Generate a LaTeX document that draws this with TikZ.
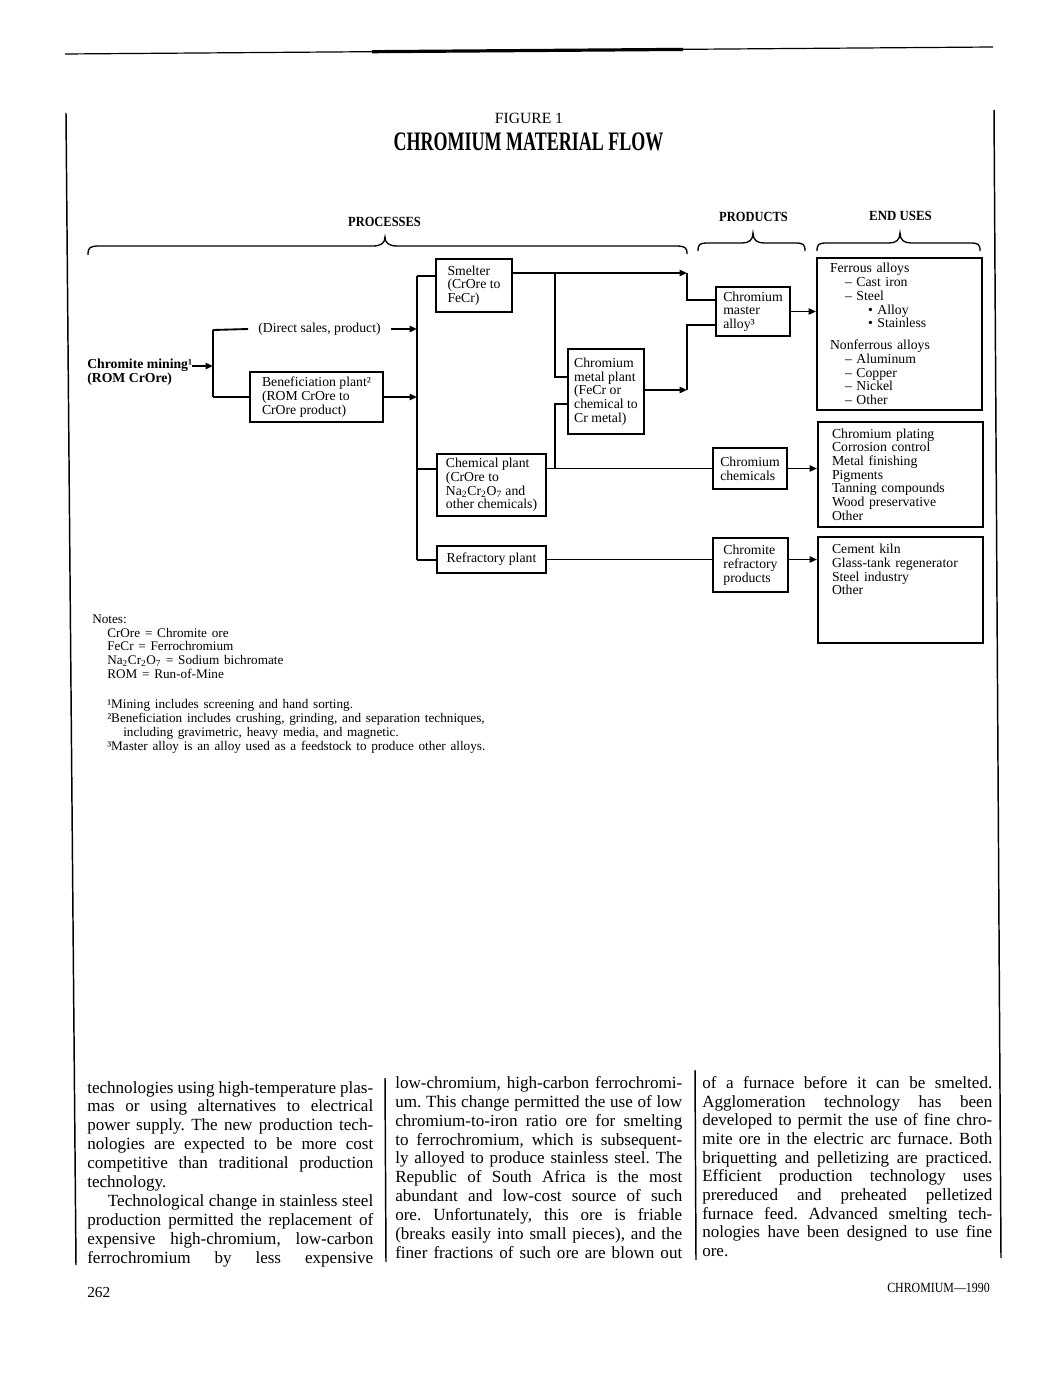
\documentclass[tikz,border=0pt]{standalone}
\usepackage{fontspec}
\usepackage{graphicx}
\setmainfont{Liberation Serif}
\frenchspacing
\usetikzlibrary{arrows.meta,calc}
\newcommand\dfont{\fontsize{10.3pt}{10.3pt}\selectfont}
\newcommand\nfont{\fontsize{9.9pt}{10.3pt}\selectfont\spaceskip=.36em plus .1em minus .05em\relax}
\newcommand\txfont{\fontsize{12.8pt}{14.2pt}\selectfont}
\newcommand\hdfont{\fontsize{10.5pt}{11pt}\selectfont\bfseries}
\newcommand\bodyline[5]{\node[bodytxt] (#1) at (#2,#3) {\hbox to #4pt{#5}};}
\newcommand\lastline[4]{\node[bodytxt] (#1) at (#2,#3) {#4};}
\newcommand\noteline[4]{\node[notetxt] (#1) at (#2,#3) {#4};}
\begin{document}
\begin{tikzpicture}[x=0.75pt,y=-0.75pt,
  ln/.style={line width=1.4pt},
  arr/.style={ln,-{Triangle[length=5.5pt,width=4.6pt]}},
  box/.style={draw,line width=1.5pt,font=\dfont,align=left,inner sep=0pt},
  lbl/.style={font=\dfont,align=left,inner sep=0pt},
  brc/.style={line width=1.0pt},
  bar/.style={line width=1.1pt},
  bodytxt/.style={anchor=base west,inner sep=0pt,font=\txfont},
  notetxt/.style={anchor=base west,inner sep=0pt,font=\nfont},
  hdr/.style={inner sep=0pt,font=\hdfont}]
\fill[white] (0,0) rectangle (1038,1380);
\useasboundingbox (0,0) rectangle (1038,1380);

% page rules
\draw[line width=0.9pt] (65,54) -- (993,47);
\draw[line width=2.4pt] (372,51.7) -- (683,49.4);
\draw[bar] (66,113) -- (76,1265);
\draw[bar] (994,110) -- (1001,1258);
\draw[bar] (385,1078) -- (386,1262);
\draw[bar] (695,1070) -- (696,1260);

% title
\node[inner sep=0pt,font=\fontsize{11.7pt}{12pt}\selectfont] (fig) at (529,118) {FIGURE 1};
\node[inner sep=0pt,font=\fontsize{20pt}{20pt}\selectfont\bfseries] (title) at (528.5,142) {\scalebox{0.675}[1]{CHROMIUM MATERIAL FLOW}};

% headers
\node[hdr] (hproc) at (384.5,222) {\scalebox{0.89}[1]{PROCESSES}};
\node[hdr] (hprod) at (753.5,217) {\scalebox{0.89}[1]{PRODUCTS}};
\node[hdr] (huse) at (900.5,216) {\scalebox{0.92}[1]{END USES}};

% braces
\draw[brc] (88,255) .. controls (88,247) and (90,246) .. (100,246) -- (373,246)
  .. controls (381,246) and (385,243) .. (385,237)
  .. controls (385,243) and (389,246) .. (397,246) -- (675,246)
  .. controls (685,246) and (687,247) .. (687,254);
\draw[brc] (698,251) .. controls (698,244) and (700,243) .. (708,243) -- (742,243)
  .. controls (749,243) and (753,240) .. (753,233)
  .. controls (753,240) and (757,243) .. (764,243) -- (795,243)
  .. controls (803,243) and (805,244) .. (805,251);
\draw[brc] (817,251) .. controls (817,244) and (819,243) .. (827,243) -- (889,243)
  .. controls (896,243) and (900,240) .. (900,233)
  .. controls (900,240) and (904,243) .. (911,243) -- (970,243)
  .. controls (978,243) and (980,244) .. (980,251);

% nodes
\node[lbl,font=\dfont\bfseries,anchor=west] (mining) at (87,372.5) {Chromite mining¹\\(ROM CrOre)};
\node[lbl,inner xsep=7.5pt] (direct) at (319.5,329) {(Direct sales, product)};
\node[box,minimum width=99.75pt,minimum height=37.5pt] (benef) at (316.5,397) {Beneficiation plant²\\(ROM CrOre to\\CrOre product)};
\node[box,minimum width=57pt,minimum height=39.75pt] (smelter) at (474,285.5) {Smelter\\(CrOre to\\FeCr)};
\node[box,minimum width=57pt,minimum height=63.75pt] (metal) at (606,391.5) {Chromium\\metal plant\\(FeCr or\\chemical to\\Cr metal)};
\node[box,minimum width=81.75pt,minimum height=46.5pt] (chem) at (491.5,485) {Chemical plant\\(CrOre to\\Na\textsubscript{2}Cr\textsubscript{2}O\textsubscript{7} and\\other chemicals)};
\node[box,minimum width=81.75pt,minimum height=20.25pt] (refr) at (491.5,559.5) {Refractory plant};
\node[box,minimum width=55.5pt,minimum height=36.75pt] (master) at (753,311.5) {Chromium\\master\\alloy³};
\node[box,minimum width=55.5pt,minimum height=30.75pt] (chemP) at (750,468.5) {Chromium\\chemicals};
\node[box,minimum width=56.25pt,minimum height=40.5pt] (crp) at (750.5,565) {Chromite\\refractory\\products};
\node[box,minimum width=123.75pt,minimum height=114pt,text width=104.25pt] (ferrous) at (899.5,334) {Ferrous alloys\\
\hspace*{11.25pt}– Cast iron\\
\hspace*{11.25pt}– Steel\\
\hspace*{28.5pt}• Alloy\\
\hspace*{28.5pt}• Stainless\\[6pt]
Nonferrous alloys\\
\hspace*{11.25pt}– Aluminum\\
\hspace*{11.25pt}– Copper\\
\hspace*{11.25pt}– Nickel\\
\hspace*{11.25pt}– Other};
\node[box,minimum width=123.75pt,minimum height=78.75pt,text width=102.75pt] (usesB) at (900.5,474.5) {Chromium plating\\Corrosion control\\Metal finishing\\Pigments\\Tanning compounds\\Wood preservative\\Other};
\node[box,minimum width=123.75pt,minimum height=79.5pt,text width=102.75pt] (usesC) at (900.5,590) {Cement kiln\\Glass-tank regenerator\\Steel industry\\Other\\\mbox{}\\\mbox{}\\\mbox{}};

% junction coordinates
\coordinate (sTop) at (213,330);
\coordinate (sMid) at (213,366);
\coordinate (sBot) at (213,397);
\coordinate (busTop) at (417,276);
\coordinate (busBot) at (417,560);
\coordinate (chemIn) at (417,469);
\coordinate (mA) at (687,273);
\coordinate (mA2) at (687,300);
\coordinate (mB) at (687,390);
\coordinate (mB2) at (687,325);
\coordinate (br1) at (555,273);
\coordinate (br1b) at (555,377);
\coordinate (br2) at (555,404);
\coordinate (br2b) at (555,468.5);

% connectors
\draw[arr] (mining.east |- sMid) -- (sMid);
\draw[ln] (sTop) -- (sBot);
\draw[ln] (sTop) -- (direct.west);
\draw[arr] (direct.east) -- (direct.east -| busTop);
\draw[ln] (sBot) -- (benef.west |- sBot);
\draw[arr] (benef.east |- sBot) -- (sBot -| busTop);
\draw[ln] (busTop) -- (busBot);
\draw[ln] (busTop) -- (smelter.west |- busTop);
\draw[ln] (chemIn) -- (chem.west |- chemIn);
\draw[ln] (busBot) -- (refr.west |- busBot);
\draw[arr] (smelter.east |- mA) -- (mA);
\draw[ln] (mA) -- (mA2) -- (master.west |- mA2);
\draw[ln] (br1) -- (br1b) -- (metal.west |- br1b);
\draw[ln] (metal.west |- br2) -- (br2) -- (br2b);
\draw[arr] (metal.east |- mB) -- (mB);
\draw[ln] (mB) -- (mB2) -- (master.west |- mB2);
\draw[arr] (master.east) -- (master.east -| ferrous.west);
\draw[ln] (chem.east |- chemP.west) -- (chemP.west);
\draw[arr] (chemP.east) -- (chemP.east -| usesB.west);
\draw[ln] (refr.east) -- (refr.east -| crp.west);
\draw[arr] (crp.east |- refr.east) -- (usesC.west |- refr.east);

% notes
\noteline{n0}{92}{623}{Notes:}
\noteline{n1}{107}{637}{CrOre = Chromite ore}
\noteline{n2}{107}{650}{FeCr = Ferrochromium}
\noteline{n3}{107}{664}{Na\textsubscript{2}Cr\textsubscript{2}O\textsubscript{7} = Sodium bichromate}
\noteline{n4}{107}{678}{ROM = Run-of-Mine}
\noteline{f1}{107}{708}{¹Mining includes screening and hand sorting.}
\noteline{f2}{107}{722}{²Beneficiation includes crushing, grinding, and separation techniques,}
\noteline{f2b}{123}{736}{including gravimetric, heavy media, and magnetic.}
\noteline{f3}{107}{750}{³Master alloy is an alloy used as a feedstock to produce other alloys.}

% body text column 1
\bodyline{a1}{87}{1093}{214.5}{technologies using high-temperature plas-}
\bodyline{a2}{87}{1111.9}{214.5}{mas or using alternatives to electrical}
\bodyline{a3}{87}{1130.8}{214.5}{power supply. The new production tech-}
\bodyline{a4}{87}{1149.7}{214.5}{nologies are expected to be more cost}
\bodyline{a5}{87}{1168.6}{214.5}{competitive than traditional production}
\lastline{a6}{87}{1187.5}{technology.}
\bodyline{a7}{87}{1206.4}{214.5}{\hspace*{15.5pt}Technological change in stainless steel}
\bodyline{a8}{87}{1225.3}{214.5}{production permitted the replacement of}
\bodyline{a9}{87}{1244.2}{214.5}{expensive high-chromium, low-carbon}
\bodyline{a10}{87}{1263.1}{214.5}{ferrochromium by less expensive}
% column 2
\bodyline{b1}{395}{1088.3}{215.25}{low-chromium, high-carbon ferrochromi-}
\bodyline{b2}{395}{1107.2}{215.25}{um. This change permitted the use of low}
\bodyline{b3}{395}{1126.1}{215.25}{chromium-to-iron ratio ore for smelting}
\bodyline{b4}{395}{1145.0}{215.25}{to ferrochromium, which is subsequent-}
\bodyline{b5}{395}{1163.9}{215.25}{ly alloyed to produce stainless steel. The}
\bodyline{b6}{395}{1182.8}{215.25}{Republic of South Africa is the most}
\bodyline{b7}{395}{1201.7}{215.25}{abundant and low-cost source of such}
\bodyline{b8}{395}{1220.6}{215.25}{ore. Unfortunately, this ore is friable}
\bodyline{b9}{395}{1239.5}{215.25}{(breaks easily into small pieces), and the}
\bodyline{b10}{395}{1258.4}{215.25}{finer fractions of such ore are blown out}
% column 3
\bodyline{c1}{702}{1088.3}{217.5}{of a furnace before it can be smelted.}
\bodyline{c2}{702}{1107.0}{217.5}{Agglomeration technology has been}
\bodyline{c3}{702}{1125.7}{217.5}{developed to permit the use of fine chro-}
\bodyline{c4}{702}{1144.4}{217.5}{mite ore in the electric arc furnace. Both}
\bodyline{c5}{702}{1163.1}{217.5}{briquetting and pelletizing are practiced.}
\bodyline{c6}{702}{1181.8}{217.5}{Efficient production technology uses}
\bodyline{c7}{702}{1200.5}{217.5}{prereduced and preheated pelletized}
\bodyline{c8}{702}{1219.2}{217.5}{furnace feed. Advanced smelting tech-}
\bodyline{c9}{702}{1237.9}{217.5}{nologies have been designed to use fine}
\lastline{c10}{702}{1256.6}{ore.}

% folio
\node[anchor=base west,inner sep=0pt,font=\fontsize{11.5pt}{12pt}\selectfont] (folio) at (87,1297) {262};
\node[anchor=base east,inner sep=0pt,font=\fontsize{10.5pt}{11pt}\selectfont] (runhead) at (990,1292) {\scalebox{0.85}[1]{CHROMIUM—1990}};
\end{tikzpicture}
\end{document}
